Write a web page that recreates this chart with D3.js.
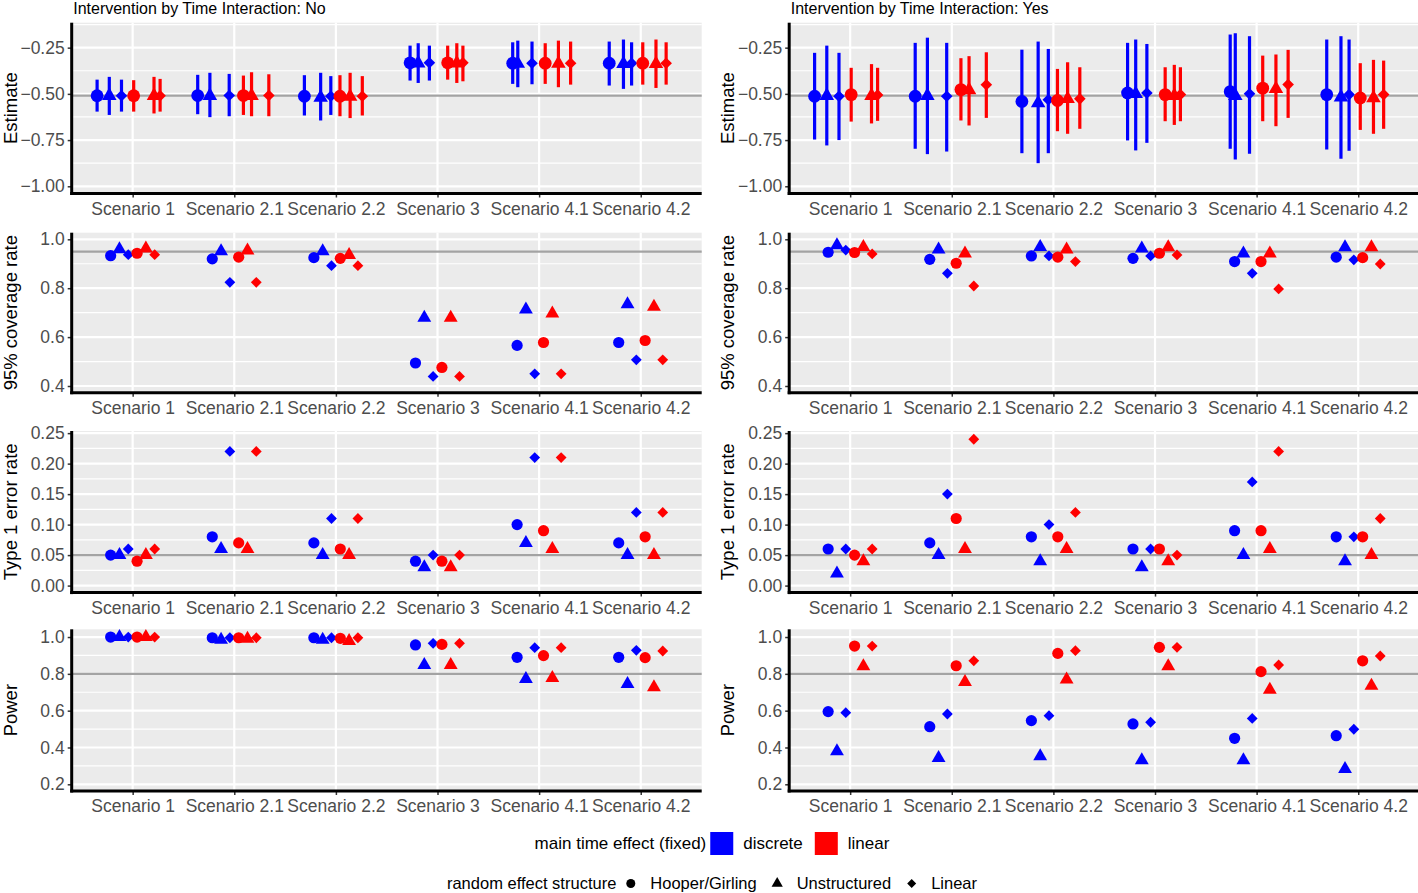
<!DOCTYPE html>
<html><head><meta charset="utf-8">
<script src="https://cdn.jsdelivr.net/npm/d3@7"></script>
<style>
body{margin:0;background:#fff;}
svg{display:block;font-family:"Liberation Sans", Arial, Helvetica, sans-serif;}
</style></head><body>
<svg id="chart" width="1418" height="893"></svg>
<script>
// ---------------- DATA ----------------
const scenarios = ["Scenario 1","Scenario 2.1","Scenario 2.2","Scenario 3","Scenario 4.1","Scenario 4.2"];
const timeEffects = ["discrete","linear"];
const structures = ["Hooper/Girling","Unstructured","Linear"];
const panelTitles = ["Intervention by Time Interaction: No","Intervention by Time Interaction: Yes"];
const rowTitles = ["Estimate","95% coverage rate","Type 1 error rate","Power"];
// group order within a scenario: discrete x (HG, Un, Lin), linear x (HG, Un, Lin)

const estNoPt = [
 [-0.510,-0.510,-0.510,-0.510,-0.510,-0.510],
 [-0.509,-0.510,-0.509,-0.509,-0.510,-0.509],
 [-0.513,-0.520,-0.513,-0.513,-0.515,-0.513],
 [-0.332,-0.334,-0.332,-0.332,-0.334,-0.332],
 [-0.334,-0.336,-0.334,-0.334,-0.336,-0.334],
 [-0.334,-0.338,-0.334,-0.334,-0.338,-0.334]];
const estNoLo = [
 [-0.596,-0.614,-0.596,-0.596,-0.606,-0.596],
 [-0.610,-0.626,-0.621,-0.614,-0.621,-0.621],
 [-0.617,-0.644,-0.614,-0.621,-0.631,-0.617],
 [-0.428,-0.441,-0.428,-0.423,-0.441,-0.432],
 [-0.446,-0.464,-0.448,-0.446,-0.464,-0.450],
 [-0.455,-0.473,-0.455,-0.450,-0.468,-0.450]];
const estNoHi = [
 [-0.423,-0.408,-0.423,-0.426,-0.408,-0.419],
 [-0.397,-0.386,-0.392,-0.401,-0.383,-0.394],
 [-0.399,-0.386,-0.404,-0.399,-0.386,-0.404],
 [-0.239,-0.226,-0.239,-0.239,-0.226,-0.239],
 [-0.221,-0.212,-0.217,-0.226,-0.212,-0.217],
 [-0.217,-0.206,-0.221,-0.221,-0.206,-0.221]];
const estYesPt = [
 [-0.513,-0.510,-0.513,-0.504,-0.510,-0.506],
 [-0.513,-0.510,-0.513,-0.477,-0.479,-0.451],
 [-0.541,-0.550,-0.532,-0.536,-0.527,-0.527],
 [-0.495,-0.500,-0.495,-0.504,-0.510,-0.504],
 [-0.488,-0.510,-0.500,-0.469,-0.473,-0.450],
 [-0.504,-0.518,-0.504,-0.522,-0.522,-0.504]];
const estYesLo = [
 [-0.747,-0.779,-0.750,-0.650,-0.660,-0.646],
 [-0.797,-0.826,-0.812,-0.644,-0.671,-0.630],
 [-0.821,-0.875,-0.821,-0.702,-0.716,-0.689],
 [-0.752,-0.806,-0.765,-0.648,-0.668,-0.648],
 [-0.797,-0.855,-0.824,-0.648,-0.675,-0.630],
 [-0.801,-0.851,-0.808,-0.695,-0.716,-0.689]];
const estYesHi = [
 [-0.278,-0.239,-0.278,-0.359,-0.339,-0.359],
 [-0.224,-0.196,-0.224,-0.307,-0.296,-0.275],
 [-0.261,-0.217,-0.257,-0.365,-0.329,-0.356],
 [-0.224,-0.206,-0.230,-0.356,-0.343,-0.356],
 [-0.179,-0.172,-0.188,-0.293,-0.287,-0.262],
 [-0.206,-0.188,-0.206,-0.334,-0.316,-0.320]];
// horizontal jitter of the estimate points (in category units)
const estJitter = [
 [-0.35,-0.23,-0.11,0.01,0.21,0.27],
 [-0.36,-0.24,-0.05,0.09,0.17,0.34],
 [-0.31,-0.15,-0.05,0.04,0.14,0.26],
 [-0.27,-0.19,-0.08,0.10,0.19,0.25],
 [-0.26,-0.21,-0.07,0.06,0.19,0.31],
 [-0.31,-0.17,-0.09,0.02,0.15,0.25]];

const covNo = [
 [0.933,0.959,0.937,0.943,0.962,0.937],
 [0.920,0.951,0.824,0.927,0.954,0.824],
 [0.925,0.951,0.892,0.922,0.936,0.892],
 [0.494,0.679,0.439,0.476,0.679,0.439],
 [0.566,0.713,0.450,0.578,0.697,0.450],
 [0.578,0.734,0.507,0.586,0.724,0.507]];
const covYes = [
 [0.947,0.976,0.956,0.946,0.969,0.940],
 [0.918,0.958,0.861,0.902,0.942,0.809],
 [0.932,0.969,0.932,0.927,0.958,0.909],
 [0.922,0.962,0.932,0.943,0.968,0.936],
 [0.909,0.942,0.861,0.909,0.942,0.797],
 [0.927,0.968,0.916,0.925,0.968,0.899]];
const t1No = [
 [0.05,0.05,0.06,0.04,0.05,0.06],
 [0.08,0.06,0.22,0.07,0.06,0.22],
 [0.07,0.05,0.11,0.06,0.05,0.11],
 [0.04,0.03,0.05,0.04,0.03,0.05],
 [0.10,0.07,0.21,0.09,0.06,0.21],
 [0.07,0.05,0.12,0.08,0.05,0.12]];
const t1Yes = [
 [0.06,0.02,0.06,0.05,0.04,0.06],
 [0.07,0.05,0.15,0.11,0.06,0.24],
 [0.08,0.04,0.10,0.08,0.06,0.12],
 [0.06,0.03,0.06,0.06,0.04,0.05],
 [0.09,0.05,0.17,0.09,0.06,0.22],
 [0.08,0.04,0.08,0.08,0.05,0.11]];
const powNo = [
 [1.000,1.000,1.000,1.000,1.000,1.000],
 [0.996,0.985,0.996,0.996,0.990,0.996],
 [0.996,0.985,0.996,0.993,0.978,0.996],
 [0.957,0.848,0.966,0.960,0.848,0.966],
 [0.890,0.772,0.942,0.899,0.778,0.942],
 [0.890,0.745,0.928,0.888,0.727,0.924]];
const powYes = [
 [0.595,0.379,0.589,0.951,0.841,0.951],
 [0.513,0.343,0.582,0.844,0.756,0.871],
 [0.546,0.352,0.573,0.911,0.769,0.926],
 [0.528,0.331,0.537,0.944,0.841,0.944],
 [0.450,0.331,0.558,0.812,0.714,0.848],
 [0.464,0.283,0.499,0.871,0.736,0.897]];

// axis ticks and reference values
const estTicks = [-1.00,-0.75,-0.50,-0.25];
const estTickLabels = ["\u22121.00","\u22120.75","\u22120.50","\u22120.25"];
const covTicks = [0.4,0.6,0.8,1.0];
const covTickLabels = ["0.4","0.6","0.8","1.0"];
const t1Ticks = [0.00,0.05,0.10,0.15,0.20,0.25];
const t1TickLabels = ["0.00","0.05","0.10","0.15","0.20","0.25"];
const powTicks = [0.2,0.4,0.6,0.8,1.0];
const powTickLabels = ["0.2","0.4","0.6","0.8","1.0"];
const refValues = [-0.51, 0.95, 0.05, 0.80];

// ---------------- LAYOUT ----------------
const svg = d3.select("#chart");
const BLUE = "#0000FF", RED = "#FF0000";
const colorOf = {discrete: BLUE, linear: RED};
const cols = [
  {x0: 0, left: 71.7, right: 701.7},
  {x0: 717.5, left: 789.2, right: 1419.2}
];
const rows = [
  {top: 22.7, bottom: 193.5, domain: [-1.039, -0.115], ticks: estTicks, labels: estTickLabels},
  {top: 232.7, bottom: 392.7, domain: [0.3726, 1.027], ticks: covTicks, labels: covTickLabels},
  {top: 431.0, bottom: 592.6, domain: [-0.0115, 0.2535], ticks: t1Ticks, labels: t1TickLabels},
  {top: 629.3, bottom: 791.0, domain: [0.1636, 1.042], ticks: powTicks, labels: powTickLabels}
];
const pointData = [
  [null, covNo, t1No, powNo],
  [null, covYes, t1Yes, powYes]
];
const estData = [
  {pt: estNoPt, lo: estNoLo, hi: estNoHi},
  {pt: estYesPt, lo: estYesLo, hi: estYesHi}
];

function shapePath(shape, s) {
  const p = d3.path();
  if (shape === "Hooper/Girling") {
    p.arc(0, 0, s.r, 0, 2 * Math.PI);
  } else if (shape === "Unstructured") {
    const t = s.t;
    p.moveTo(0, -t); p.lineTo(t * 0.866, t * 0.5); p.lineTo(-t * 0.866, t * 0.5); p.closePath();
  } else {
    const d = s.d;
    p.moveTo(0, -d); p.lineTo(d, 0); p.lineTo(0, d); p.lineTo(-d, 0); p.closePath();
  }
  return p.toString();
}
const bigShape = {r: 6.4, t: 8.4, d: 5.8};
const smallShape = {r: 5.6, t: 8.0, d: 5.4};
const DODGE = 0.52;

function minorTicks(ticks, domain) {
  const out = [];
  const step = ticks[1] - ticks[0];
  const lo = ticks[0] - step, hi = ticks[ticks.length - 1] + step;
  for (let v = lo + step / 2; v < hi; v += step) {
    if (v > domain[0] && v < domain[1]) out.push(v);
  }
  return out;
}

function drawPanel(ci, ri) {
  const c = cols[ci], r = rows[ri];
  const g = svg.append("g");
  const x = d3.scalePoint().domain(scenarios).range([c.left, c.right]).padding(0.6);
  const step = x.step();
  const y = d3.scaleLinear().domain(r.domain).range([r.bottom, r.top]);

  g.append("rect").attr("x", c.left).attr("y", r.top)
    .attr("width", c.right - c.left).attr("height", r.bottom - r.top).attr("fill", "#EBEBEB");
  // minor gridlines
  g.selectAll(".minor").data(minorTicks(r.ticks, r.domain)).join("line")
    .attr("x1", c.left).attr("x2", c.right).attr("y1", d => y(d)).attr("y2", d => y(d))
    .attr("stroke", "#fff").attr("stroke-width", 1.2);
  // major gridlines
  g.selectAll(".major").data(r.ticks).join("line")
    .attr("x1", c.left).attr("x2", c.right).attr("y1", d => y(d)).attr("y2", d => y(d))
    .attr("stroke", "#fff").attr("stroke-width", 2.2);
  g.selectAll(".vmajor").data(scenarios).join("line")
    .attr("x1", d => x(d)).attr("x2", d => x(d)).attr("y1", r.top).attr("y2", r.bottom)
    .attr("stroke", "#fff").attr("stroke-width", 2.2);
  // reference line
  g.append("line").attr("x1", c.left).attr("x2", c.right)
    .attr("y1", y(refValues[ri])).attr("y2", y(refValues[ri]))
    .attr("stroke", "#A3A3A3").attr("stroke-width", 2.2);

  // marks
  const marks = g.append("g");
  scenarios.forEach((s, si) => {
    for (let gi = 0; gi < 6; gi++) {
      const te = timeEffects[Math.floor(gi / 3)];
      const st = structures[gi % 3];
      const col = colorOf[te];
      if (ri === 0) {
        const d = estData[ci];
        const px = x(s) + estJitter[si][gi] * step;
        marks.append("line").attr("x1", px).attr("x2", px)
          .attr("y1", y(d.lo[si][gi])).attr("y2", y(d.hi[si][gi]))
          .attr("stroke", col).attr("stroke-width", 3.2);
        marks.append("path").attr("d", shapePath(st, bigShape))
          .attr("transform", `translate(${px},${y(d.pt[si][gi])})`).attr("fill", col);
      } else {
        const v = pointData[ci][ri][si][gi];
        const px = x(s) + (gi - 2.5) * (DODGE / 6) * step;
        marks.append("path").attr("d", shapePath(st, smallShape))
          .attr("transform", `translate(${px},${y(v)})`).attr("fill", col);
      }
    }
  });

  // axes
  const ya = g.append("g").attr("transform", `translate(${c.left},0)`)
    .call(d3.axisLeft(y).tickValues(r.ticks).tickFormat((d, i) => r.labels[i]).tickSize(4).tickPadding(3));
  const xa = g.append("g").attr("transform", `translate(0,${r.bottom})`)
    .call(d3.axisBottom(x).tickSize(4).tickPadding(5));
  [ya, xa].forEach(a => {
    a.select(".domain").remove();
    a.selectAll(".tick line").attr("stroke", "#333").attr("stroke-width", 1.5);
    a.selectAll(".tick text").attr("fill", "#4D4D4D").attr("font-size", 17.5)
      .attr("font-family", '"Liberation Sans", Arial, sans-serif');
  });
  // axis lines
  g.append("line").attr("x1", c.left).attr("x2", c.left).attr("y1", r.top).attr("y2", r.bottom + 1.5)
    .attr("stroke", "#000").attr("stroke-width", 3);
  g.append("line").attr("x1", c.left - 1.5).attr("x2", c.right).attr("y1", r.bottom).attr("y2", r.bottom)
    .attr("stroke", "#000").attr("stroke-width", 3);
  // axis title
  g.append("text").attr("transform", `translate(${c.x0 + 16.5},${(r.top + r.bottom) / 2}) rotate(-90)`)
    .attr("text-anchor", "middle").attr("font-size", 18.5).attr("fill", "#000").text(rowTitles[ri]);
  if (ri === 0) {
    g.append("text").attr("x", c.left + 1.5).attr("y", 13.5).attr("font-size", 16).attr("fill", "#000")
      .text(panelTitles[ci]);
  }
}

for (let ci = 0; ci < 2; ci++) for (let ri = 0; ri < 4; ri++) drawPanel(ci, ri);

// ---------------- LEGEND ----------------
const KEY = 23;
function legendRow(yc, title, items, fs, keyW, gapIn, gapOut) {
  const g = svg.append("g");
  const tt = g.append("text").attr("font-size", fs).attr("fill", "#000").attr("y", yc + fs * 0.35).text(title);
  const wT = tt.node().getComputedTextLength();
  const labels = items.map(it => {
    const t = g.append("text").attr("font-size", fs).attr("fill", "#000").attr("y", yc + fs * 0.35).text(it.label);
    return {t, w: t.node().getComputedTextLength(), it};
  });
  let total = wT;
  labels.forEach((l, i) => { total += (i === 0 ? 4 : gapOut) + keyW + gapIn + l.w; });
  let xx = 712 - total / 2;
  tt.attr("x", xx); xx += wT;
  labels.forEach((l, i) => {
    xx += (i === 0 ? 4 : gapOut);
    l.it.draw(g, xx, yc, keyW);
    xx += keyW + gapIn;
    l.t.attr("x", xx);
    xx += l.w;
  });
}
legendRow(843.5, "main time effect (fixed)", timeEffects.map(te => ({
  label: te,
  draw: (g, x0, yc, kw) => g.append("rect").attr("x", x0).attr("y", yc - KEY / 2).attr("width", kw).attr("height", KEY).attr("fill", colorOf[te])
})), 17, KEY, 10, 12);
const legShape = {r: 4.5, t: 6.5, d: 4.5};
legendRow(883.5, "random effect structure", structures.map(st => ({
  label: st,
  draw: (g, x0, yc, kw) => g.append("path").attr("d", shapePath(st, legShape)).attr("transform", `translate(${x0 + kw / 2},${yc})`).attr("fill", "#000")
})), 16.5, 21, 9, 10);
</script>
</body></html>
